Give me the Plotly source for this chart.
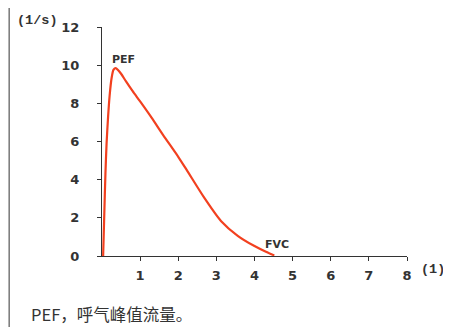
import plotly.graph_objects as go

# Flow-volume curve (volume in L, flow in L/s)
volume = [0.03, 0.06, 0.09, 0.12, 0.16, 0.20, 0.25, 0.30, 0.36, 0.42, 0.50, 0.63, 0.80,
          1.00, 1.30, 1.60, 2.00, 2.24, 2.68, 3.12, 3.56, 4.00, 4.30, 4.52]
flow = [0.0, 2.2, 4.3, 5.9, 7.3, 8.4, 9.3, 9.75, 9.85, 9.75, 9.55, 9.15, 8.65,
        8.1, 7.25, 6.35, 5.2, 4.45, 3.06, 1.84, 1.06, 0.52, 0.22, 0.03]

x_ticks = [1, 2, 3, 4, 5, 6, 7, 8]
y_ticks = [0, 2, 4, 6, 8, 10, 12]

OFF = 8  # page body margin (top/left)
W, H = 451 - OFF, 327 - OFF
L, R, T, B = 101.5 - OFF, 44, 25 - OFF, 327 - 256
pw, ph = W - L - R, H - T - B

def px(xpix):
    return (xpix - OFF - L) / pw

def py(ypix):
    return (H - B - (ypix - OFF)) / ph

fig = go.Figure()
fig.add_trace(go.Scatter(
    x=volume, y=flow, mode="lines",
    line=dict(color="#f2401f", width=2.2, shape="spline", smoothing=0.7),
    cliponaxis=False, hoverinfo="skip", showlegend=False,
))

tickfont = dict(family="DejaVu Sans", size=13, color="#333333", weight="bold")
mono = dict(family="Liberation Mono", size=13.5, color="#333333", weight="bold")
small = dict(family="DejaVu Sans", size=11, color="#333333", weight="bold")

fig.update_layout(
    width=W, height=H,
    margin=dict(l=L, r=R, t=T, b=B),
    paper_bgcolor="white", plot_bgcolor="white",
    xaxis=dict(range=[0, 8], tickvals=x_ticks, showgrid=False, zeroline=False,
               showline=True, linecolor="#333333", linewidth=1.2,
               ticks="outside", ticklen=4, tickcolor="#333333", tickwidth=1.2,
               tickfont=tickfont, ticklabelstandoff=3, fixedrange=True),
    yaxis=dict(range=[0, 12], tickvals=y_ticks, showgrid=False, zeroline=False,
               showline=True, linecolor="#333333", linewidth=1.2,
               ticks="outside", ticklen=4, tickcolor="#333333", tickwidth=1.2,
               tickfont=tickfont, ticklabelstandoff=15, fixedrange=True),
    shapes=[dict(type="line", xref="paper", yref="paper",
                 x0=px(8.5), x1=px(8.5), y0=py(-2), y1=py(340),
                 line=dict(color="#555555", width=1.2))],
    annotations=[
        dict(text="(1/s)", xref="paper", yref="paper", x=px(14), y=py(18),
             xanchor="left", yanchor="middle", showarrow=False, font=mono),
        dict(text="(1)", xref="paper", yref="paper", x=px(419), y=py(270),
             xanchor="left", yanchor="middle", showarrow=False, font=mono),
        dict(text="PEF", xref="paper", yref="y", x=px(123), y=10.3,
             xanchor="center", yanchor="middle", showarrow=False, font=small),
        dict(text="FVC", xref="paper", yref="y", x=px(263), y=0.62,
             xanchor="left", yanchor="middle", showarrow=False, font=small),
        dict(text="PEF，呼气峰值流量。", xref="paper", yref="paper", x=px(28), y=py(315),
             xanchor="left", yanchor="middle", showarrow=False,
             font=dict(family="Noto Sans CJK SC", size=16.5, color="#333333")),
    ],
)

fig.write_html("out.html")
